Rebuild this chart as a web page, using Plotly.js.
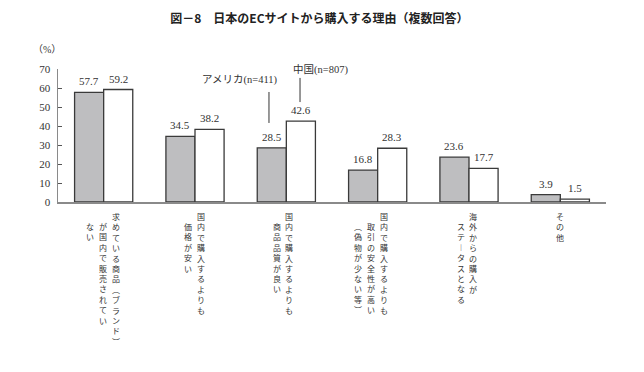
<!DOCTYPE html>
<html>
<head>
<meta charset="utf-8">
<script src="https://cdn.plot.ly/plotly-3.0.1.min.js"></script>
<style>html,body{margin:0;padding:0;background:#fff;}#chart{width:644px;height:372px;}</style>
</head>
<body>
<div id="chart"></div>
<script>
// ---- data ----
var categories = ["求めている商品（ブランド）が国内で販売されていない", "国内で購入するよりも価格が安い", "国内で購入するよりも商品品質が良い", "国内で購入するよりも取引の安全性が高い（偽物が少ない等）", "海外からの購入がステータスとなる", "その他"];
var categoryColumns = [
  ["求めている商品（ブランド）", "が国内で販売されてい", "ない"],
  ["国内で購入するよりも", "価格が安い"],
  ["国内で購入するよりも", "商品品質が良い"],
  ["国内で購入するよりも", "取引の安全性が高い", "（偽物が少ない等）"],
  ["海外からの購入が", "ステータスとなる"],
  ["その他"]
];
var usName = "アメリカ(n=411)";
var cnName = "中国(n=807)";
var usValues = [57.7, 34.5, 28.5, 16.8, 23.6, 3.9];
var cnValues = [59.2, 38.2, 42.6, 28.3, 17.7, 1.5];
var yTicks = [0, 10, 20, 30, 40, 50, 60, 70];

// ---- layout helpers ----
var colOffsets = [[12, -1, -14], [5.5, -7], [3, -9], [6, -7, -20], [4, -8], [0]];
var labelSize = 8;
var lineStep = labelSize * 1.3;
var verticalForms = {"（": "︵", "）": "︶", "ー": "︱"};
function toVertical(col) {
  return Array.from(col).map(function (ch) { return verticalForms[ch] || ch; }).join("<br>");
}
var xIdx = categories.map(function (_, i) { return i; });
var barHalf = 0.16;

var serif = "Liberation Serif, Noto Sans CJK JP, serif";
var jp = "Noto Sans CJK JP, sans-serif";
var textColor = "#333";

var traces = [
  {type: "bar", x: xIdx, y: usValues, name: usName,
   marker: {color: "#bebec0", line: {color: "#3a3a3a", width: 1.3}}, hoverinfo: "y"},
  {type: "bar", x: xIdx, y: cnValues, name: cnName,
   marker: {color: "#ffffff", line: {color: "#3a3a3a", width: 1.3}}, hoverinfo: "y"}
];

var annotations = [];
// value labels
usValues.forEach(function (v, i) {
  annotations.push({xref: "x", yref: "y", x: i - barHalf, y: v, text: String(v), showarrow: false,
    yanchor: "bottom", yshift: 3, font: {family: serif, size: 11, color: textColor}});
});
cnValues.forEach(function (v, i) {
  annotations.push({xref: "x", yref: "y", x: i + barHalf, y: v, text: String(v), showarrow: false,
    yanchor: "bottom", yshift: 3, font: {family: serif, size: 11, color: textColor}});
});
// vertical category labels (one column per annotation, columns read right to left)
categoryColumns.forEach(function (cols, i) {
  cols.forEach(function (col, c) {
    var start = c === 0 ? 0 : 1;
    annotations.push({xref: "x", yref: "y", x: i, y: 0, text: toVertical(col), showarrow: false,
      xanchor: "center", yanchor: "top", align: "center", borderpad: 0,
      xshift: colOffsets[i][c], yshift: -(8 + start * lineStep),
      font: {family: jp, size: labelSize, color: textColor}});
  });
});
// series callouts
annotations.push({xref: "x", yref: "y", x: 2, y: 64.2, xshift: -46, text: usName, showarrow: false,
  font: {family: serif, size: 10.5, color: textColor}});
annotations.push({xref: "x", yref: "y", x: 2, y: 70, xshift: 34, text: cnName, showarrow: false,
  font: {family: serif, size: 10.5, color: textColor}});
// unit label
annotations.push({xref: "paper", yref: "paper", x: -0.05, y: 1.2, text: "（%）", showarrow: false,
  font: {family: serif, size: 10, color: textColor}});

var layout = {
  width: 644, height: 372,
  margin: {l: 58, r: 38, t: 69, b: 170},
  paper_bgcolor: "#fff", plot_bgcolor: "#fff",
  title: {text: "図－8　日本のECサイトから購入する理由（複数回答）", x: 0.496, xanchor: "center",
    y: 1 - 19 / 372, yanchor: "middle", yref: "container",
    font: {family: jp, size: 12, color: "#222", weight: "bold"}},
  showlegend: false,
  barmode: "group", bargap: 0.363, bargroupgap: 0,
  xaxis: {range: [-0.5, 5.5], showticklabels: false, ticks: "", showgrid: false, zeroline: false,
    showline: true, linecolor: "#8a8a8a", linewidth: 1.5, fixedrange: true},
  yaxis: {range: [0, 70], tickvals: yTicks, ticktext: yTicks.map(String), ticks: "inside", ticklen: 4,
    tickcolor: "#555", tickwidth: 1, showgrid: false, zeroline: false, showline: true,
    linecolor: "#8a8a8a", linewidth: 1.5, ticklabelstandoff: 4,
    tickfont: {family: serif, size: 11, color: textColor}, fixedrange: true},
  annotations: annotations,
  shapes: [
    {type: "line", xref: "x", yref: "y", x0: 1.81, x1: 1.81, y0: 41.6, y1: 57.9, line: {color: "#333", width: 1}},
    {type: "line", xref: "x", yref: "y", x0: 2.15, x1: 2.15, y0: 52.6, y1: 65.3, line: {color: "#333", width: 1}}
  ]
};

Plotly.newPlot("chart", traces, layout, {displayModeBar: false, staticPlot: true});
</script>
</body>
</html>
